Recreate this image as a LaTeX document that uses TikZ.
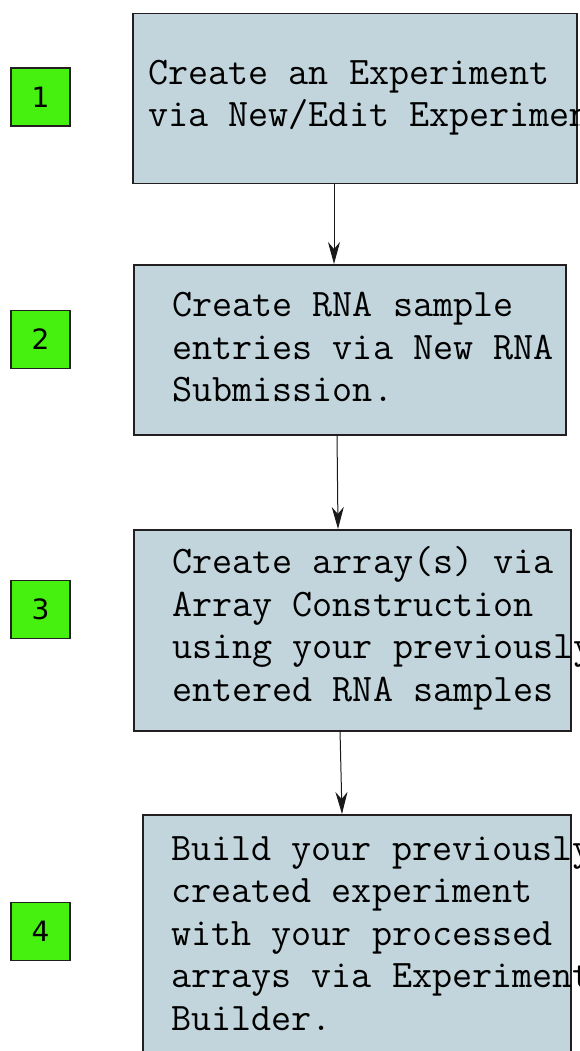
\documentclass[tikz,border=0pt]{standalone}
\usepackage{fontspec}
\newfontfamily\numfont{DejaVu Sans}
\usetikzlibrary{arrows.meta}
\definecolor{boxfill}{RGB}{194,213,220}
\definecolor{boxline}{RGB}{35,31,32}
\definecolor{stepgreen}{RGB}{70,240,15}
\tikzset{
  stepbox/.style={draw=boxline, line width=1.5pt, fill=boxfill, inner sep=0pt, anchor=north west},
  steptext/.style={font=\fontsize{39}{42.5}\selectfont\ttfamily, align=left, inner sep=0pt, anchor=base west},
  numbox/.style={draw=boxline, line width=1.3pt, fill=stepgreen, minimum width=59pt, minimum height=58pt, inner sep=0pt, font=\fontsize{28}{28}\selectfont\numfont},
  flow/.style={draw=black!90, line width=1pt, -{Stealth[length=22pt, width=12pt, inset=7pt]}}
}
\begin{document}
\begin{tikzpicture}[x=1pt,y=-1pt]
\useasboundingbox (0,0) rectangle (580,1051);
\clip (0,0) rectangle (580,1051);
% boxes
\node[stepbox, minimum width=444pt, minimum height=170pt] (b1) at (132,13) {};
\node[stepbox, minimum width=432pt, minimum height=170pt] (b2) at (133,264) {};
\node[stepbox, minimum width=437pt, minimum height=201pt] (b3) at (133,529) {};
\node[stepbox, minimum width=428pt, minimum height=260pt] (b4) at (142,814) {};
% texts (anchored at the baseline of the last line)
\node[steptext] (t1) at (148,127) {Create an Experiment\\via New/Edit Experiment.};
\node[steptext] (t2) at (172,401.5) {Create RNA sample\\entries via New RNA\\Submission.};
\node[steptext] (t3) at (172,701) {Create array(s) via\\Array Construction\\using your previously\\entered RNA samples};
\node[steptext] (t4) at (171,1030) {Build your previously\\created experiment\\with your processed\\arrays via Experiment\\Builder.};
% numbers
\node[numbox] (n1) at (40.5,97) {1};
\node[numbox] (n2) at (40.5,339.5) {2};
\node[numbox] (n3) at (40.5,609.5) {3};
\node[numbox] (n4) at (40.5,931.5) {4};
% connectors
\coordinate (a1s) at (334,183); \coordinate (a1e) at (334,264);
\coordinate (a2s) at (337,434); \coordinate (a2e) at (338,529);
\coordinate (a3s) at (340,730); \coordinate (a3e) at (342,814);
\draw[flow] (a1s) -- (a1e);
\draw[flow] (a2s) -- (a2e);
\draw[flow] (a3s) -- (a3e);
\end{tikzpicture}
\end{document}
